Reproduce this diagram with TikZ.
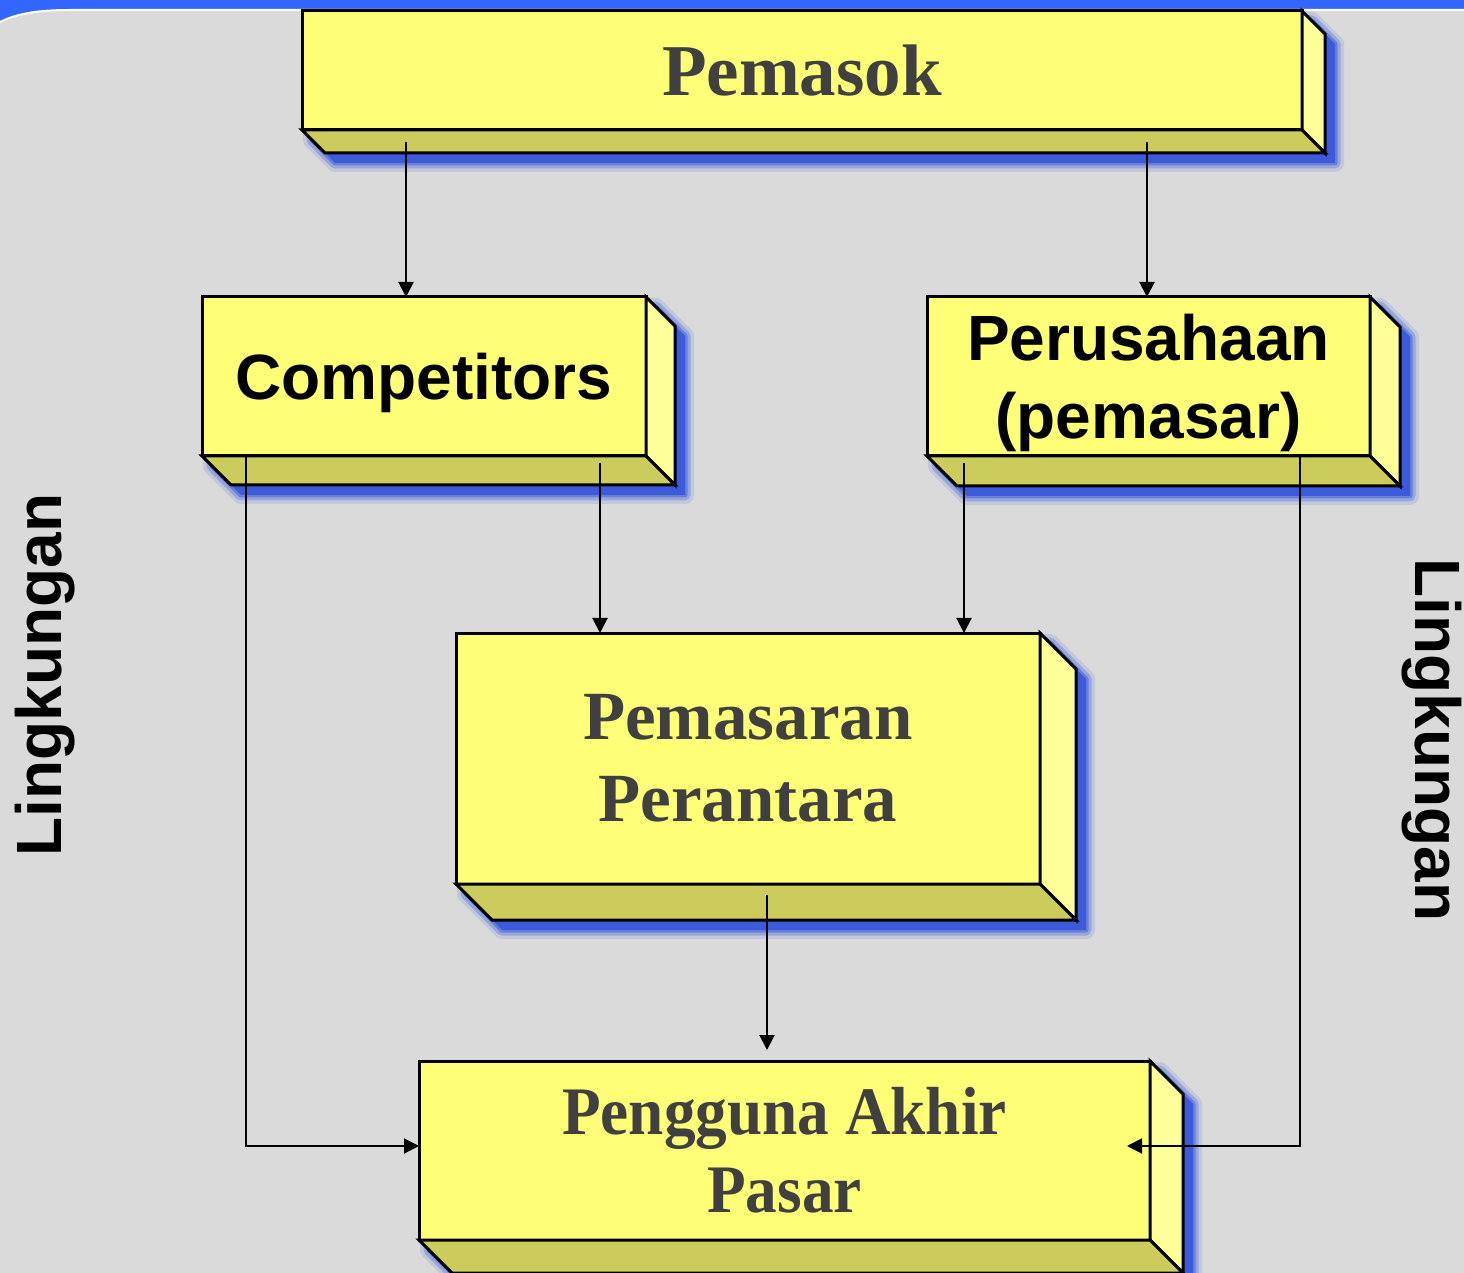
\documentclass[tikz,border=0pt]{standalone}
\usepackage{graphicx}
\usepackage{fontspec}
\setmainfont{Liberation Serif}
\setsansfont{Liberation Sans}
\usetikzlibrary{arrows.meta}

\definecolor{panelgray}{RGB}{218,218,218}
\definecolor{topblue}{RGB}{51,102,255}
\definecolor{shadowblue}{RGB}{59,91,219}
\definecolor{frontyellow}{RGB}{255,255,119}
\definecolor{sideyellow}{RGB}{255,255,153}
\definecolor{bottomyellow}{RGB}{204,204,92}
\definecolor{textgray}{RGB}{64,64,64}

\pgfdeclarelayer{back}
\pgfdeclarelayer{shade}
\pgfsetlayers{back,shade,main}

% side faces and shadow of a box node: #1 name, #2 depth
\newcommand{\boxsides}[2]{%
  \begin{pgfonlayer}{shade}
    \foreach \w/\o in {18/0.15, 11/0.3, 5/0.5}
      \draw[shadowblue, opacity=\o, line width=\w*0.5pt, line join=round]
        ([shift={(10,10)}]#1.north west) -- ([shift={(10,10)}]#1.north east)
        -- ([shift={(10+#2,10+#2)}]#1.north east) -- ([shift={(10+#2,10+#2)}]#1.south east)
        -- ([shift={(10+#2,10+#2)}]#1.south west) -- ([shift={(10,10)}]#1.south west) -- cycle;
    \fill[shadowblue]
        ([shift={(10,10)}]#1.north west) -- ([shift={(10,10)}]#1.north east)
        -- ([shift={(10+#2,10+#2)}]#1.north east) -- ([shift={(10+#2,10+#2)}]#1.south east)
        -- ([shift={(10+#2,10+#2)}]#1.south west) -- ([shift={(10,10)}]#1.south west) -- cycle;
  \end{pgfonlayer}
  \draw[edge, fill=sideyellow] (#1.north east) -- ([shift={(#2,#2)}]#1.north east)
    -- ([shift={(#2,#2)}]#1.south east) -- (#1.south east) -- cycle;
  \draw[edge, fill=bottomyellow] (#1.south west) -- (#1.south east)
    -- ([shift={(#2,#2)}]#1.south east) -- ([shift={(#2,#2)}]#1.south west) -- cycle;
}

\begin{document}
\begin{tikzpicture}[x=0.5pt, y=-0.5pt,
    edge/.style={draw=black, line width=1.5pt},
    face/.style={draw=black, line width=1.5pt, fill=frontyellow, outer sep=0pt, inner sep=0pt, align=center},
    serifbig/.style={text=textgray, font=\bfseries\fontsize{36.5}{41}\selectfont},
    sansbig/.style={text=black, font=\sffamily\bfseries\fontsize{32}{39}\selectfont},
    arr/.style={line width=1pt, -{Triangle[length=7.5pt,width=7.5pt]}}]
    \useasboundingbox (0,0) rectangle (1464,1273);
    \clip (0,0) rectangle (1464,1273);

    % Background panel
    \begin{pgfonlayer}{back}
        \fill[topblue] (0,0) rectangle (1464,40);
        \fill[panelgray] (0,22) .. controls (18,13) and (40,10) .. (70,10) -- (1464,10) -- (1464,1273) -- (0,1273) -- cycle;
        \draw[white, line width=1pt] (0,22) .. controls (18,13) and (40,10) .. (70,10) -- (1464,10);
    \end{pgfonlayer}

    % Boxes
    \node[face, serifbig, minimum width=1000*0.5pt, minimum height=119*0.5pt] (pemasok) at (802,70.5) {Pemasok};
    \boxsides{pemasok}{23}
    \node[face, sansbig, text depth=0pt, minimum width=444*0.5pt, minimum height=159*0.5pt] (competitors) at (424,376.5) {Competitors};
    \boxsides{competitors}{29}
    \node[face, sansbig, text depth=0pt, minimum width=443*0.5pt, minimum height=159*0.5pt] (perusahaan) at (1148.5,376.5) {Perusahaan\\(pemasar)};
    \boxsides{perusahaan}{30}
    \node[face, serifbig, font=\bfseries\fontsize{34.5}{41}\selectfont, minimum width=584*0.5pt, minimum height=251*0.5pt] (perantara) at (748,758.5) {Pemasaran\\Perantara};
    \boxsides{perantara}{36}
    \node[face, serifbig, font=\bfseries\fontsize{34}{39}\selectfont, minimum width=731*0.5pt, minimum height=179*0.5pt] (pengguna) at (784.5,1150.5)
        {\scalebox{0.93}[1]{Pengguna Akhir}\\\scalebox{0.93}[1]{Pasar}};
    \boxsides{pengguna}{33}

    % Environment labels
    \node[sansbig, rotate=90] (lingkiri) at (45,675) {Lingkungan};
    \node[sansbig, rotate=-90] (lingkanan) at (1432,740) {Lingkungan};

    % Flows
    \draw[arr] ([shift={(104,12)}]pemasok.south west) coordinate (p1) -- (p1 |- competitors.north);
    \draw[arr] ([shift={(845,12)}]pemasok.south west) coordinate (p2) -- (p2 |- perusahaan.north);
    \draw[arr] ([shift={(398,7)}]competitors.south west) coordinate (c1) -- (c1 |- perantara.north);
    \draw[arr] ([shift={(44,1)}]competitors.south west) coordinate (c2) |- ([yshift=2.25pt]pengguna.west);
    \draw[arr] ([shift={(37,7)}]perusahaan.south west) coordinate (u1) -- (u1 |- perantara.north);
    \draw[arr] ([shift={(373,1)}]perusahaan.south west) coordinate (u2) |- ([shift={(-23,-4.5)}]pengguna.east);
    \draw[arr, shorten >=5.5pt] ([shift={(311,11)}]perantara.south west) coordinate (m1) -- (m1 |- pengguna.north);
\end{tikzpicture}
\end{document}
